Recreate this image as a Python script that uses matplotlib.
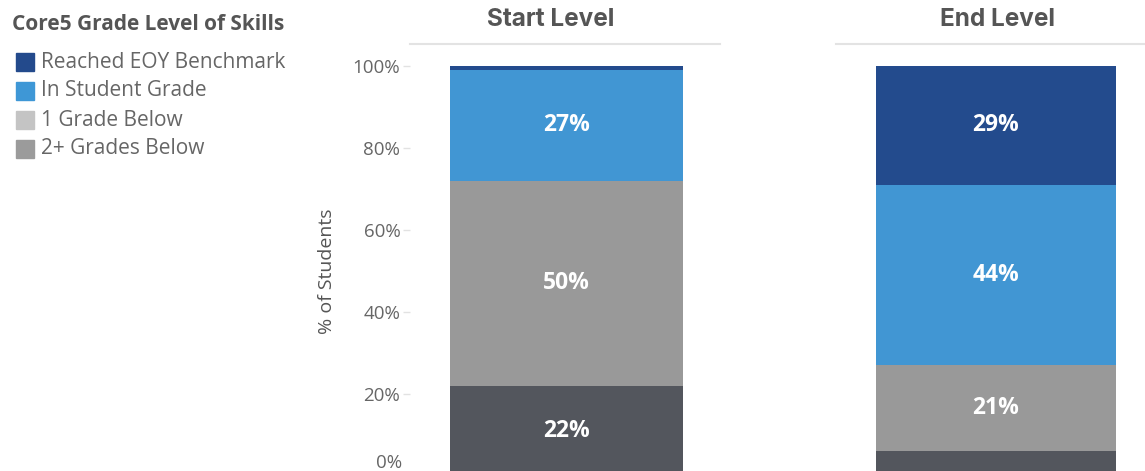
import matplotlib.pyplot as plt
from matplotlib.patches import Rectangle
from matplotlib.lines import Line2D

# stacked share of students per level, bottom to top
levels = ["Start Level", "End Level"]
two_plus_below = [22, 6]
one_below = [50, 21]
in_grade = [27, 44]
reached_eoy = [1, 29]

legend_title = "Core5 Grade Level of Skills"
legend_labels = ["Reached EOY Benchmark", "In Student Grade", "1 Grade Below", "2+ Grades Below"]
legend_colors = ["#234a8c", "#3e97d6", "#c4c4c4", "#9b9b9b"]

seg_colors = ["#53565d", "#999999", "#4196d3", "#234b8d"]
yticks = [0, 20, 40, 60, 80, 100]

plt.rcParams['font.family'] = ['Open Sans', 'DejaVu Sans']

W, H = 1145, 471
fig = plt.figure(figsize=(W / 100, H / 100), dpi=100)

def px_axes(x0, x1, y_top, y_zero):
    return fig.add_axes([x0 / W, (H - y_zero) / H, (x1 - x0) / W, (y_zero - y_top) / H])

# panel extents, bar extents and header centre in pixels
panels = [(410, 720, 450, 683, 551), (836, 1145, 876, 1116, 997)]
series = [two_plus_below, one_below, in_grade, reached_eoy]

for i, (lvl, (px0, px1, bx0, bx1, cx)) in enumerate(zip(levels, panels)):
    ax = px_axes(px0, px1, 66, 476)
    unit = bx1 - bx0
    ax.set_xlim(-0.5 - (bx0 - px0) / unit, 0.5 + (px1 - bx1) / unit)
    ax.set_ylim(0, 100)
    bottom = 0
    for vals, col in zip(series, seg_colors):
        v = vals[i]
        ax.bar(0, v, width=1, bottom=bottom, color=col, linewidth=0)
        if v >= 10:
            ax.text(0, bottom + v / 2, f"{v}%", ha='center', va='center',
                    color='white', fontsize=16.5, fontweight='bold')
        bottom += v
    for s in ax.spines.values():
        s.set_visible(False)
    ax.set_xticks([])
    if i == 0:
        ax.set_yticks(yticks)
        labels = [f"{t}%" for t in yticks]
        labels[0] = ""
        ax.set_yticklabels(labels)
        ax.tick_params(axis='y', length=5, width=1, color='#e2e2e2', pad=2,
                       labelsize=13.5, labelcolor='#666666')
        # bottom label is nudged up so it stays inside the frame
        ax.annotate("0%", xy=(0, 0), xycoords=('axes fraction', 'data'),
                    xytext=(-8, 13), textcoords='offset pixels', ha='right',
                    va='center', fontsize=13.5, color='#666666')
        ax.set_ylabel("% of Students", fontsize=14, color='#555555', labelpad=12)
    else:
        ax.set_yticks([])
    # panel header with rule below it
    fig.text(cx / W, 1 - 20 / H, lvl, ha='center', va='center', fontsize=17.5,
             fontweight='bold', color='#555555', family=['Inter', 'DejaVu Sans'])
    fig.add_artist(Line2D([px0 / W, px1 / W], [1 - 44 / H, 1 - 44 / H],
                          color='#e3e3e3', linewidth=1.5))

# legend block on the left
fig.text(12 / W, 1 - 25 / H, legend_title, ha='left', va='center', fontsize=15,
         fontweight='bold', color='#555555')
for k, (lab, col) in enumerate(zip(legend_labels, legend_colors)):
    yc = 62 + k * 29
    fig.add_artist(Rectangle((16 / W, 1 - (yc + 9) / H), 18 / W, 18 / H,
                             color=col, transform=fig.transFigure))
    fig.text(41 / W, 1 - yc / H, lab, ha='left', va='center', fontsize=15,
             color='#666666')

fig.savefig("out.png", dpi=100)
